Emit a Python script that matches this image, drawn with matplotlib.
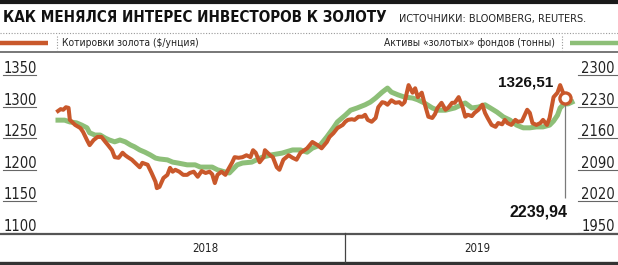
import matplotlib
matplotlib.use("Agg")
import matplotlib.pyplot as plt
import matplotlib.transforms as mtransforms
from matplotlib.lines import Line2D

# --- данные ---
gold_day = [0, 2, 4, 6, 8, 9, 13, 17, 19, 22, 24, 27, 30, 33, 36, 38, 41, 43, 46, 49,
            51, 53, 56, 60, 62, 64, 68, 71, 74, 75, 77, 80, 83, 85, 87, 89, 92, 95, 98, 100,
            103, 106, 109, 112, 115, 117, 119, 121, 124, 127, 129, 132, 134, 137, 140, 143, 146, 148, 150, 153,
            156, 157, 161, 163, 166, 168, 171, 175, 178, 181, 184, 187, 189, 193, 197, 200, 204, 206, 209, 212,
            216, 218, 220, 223, 225, 228, 231, 233, 235, 238, 241, 243, 246, 248, 250, 253, 256, 259, 261, 263,
            266, 269, 271, 273, 276, 278, 281, 284, 286, 288, 291, 294, 296, 299, 301, 304, 307, 309, 311, 314,
            316, 319, 322, 324, 326, 329, 332, 334, 337, 339, 341, 344, 347, 349, 352, 356, 358, 360, 363, 366,
            368, 371, 373, 376, 379, 381, 383, 385]
gold_price = [1293, 1296, 1295, 1299, 1298, 1279, 1271, 1266, 1260, 1247, 1239, 1247, 1252, 1252, 1244, 1239, 1231, 1220, 1219, 1227,
              1223, 1220, 1216, 1208, 1204, 1211, 1208, 1195, 1181, 1171, 1173, 1187, 1192, 1203, 1197, 1200, 1197, 1192, 1192, 1195,
              1197, 1189, 1198, 1195, 1197, 1193, 1179, 1192, 1197, 1192, 1200, 1211, 1220, 1219, 1220, 1223, 1220, 1231, 1227, 1212,
              1220, 1231, 1223, 1220, 1204, 1200, 1216, 1223, 1219, 1216, 1227, 1231, 1234, 1244, 1239, 1234, 1244, 1252, 1258, 1266,
              1271, 1276, 1279, 1280, 1279, 1284, 1284, 1287, 1279, 1276, 1282, 1299, 1307, 1306, 1303, 1310, 1306, 1307, 1303, 1307,
              1334, 1322, 1329, 1315, 1322, 1306, 1284, 1282, 1288, 1298, 1306, 1295, 1298, 1306, 1306, 1315, 1299, 1284, 1287, 1285,
              1290, 1295, 1303, 1290, 1282, 1271, 1268, 1274, 1272, 1279, 1274, 1271, 1279, 1276, 1277, 1295, 1290, 1274, 1271, 1274,
              1279, 1271, 1282, 1315, 1322, 1334, 1323, 1314]

etf_day = [0, 5, 9, 14, 18, 22, 24, 28, 32, 36, 39, 43, 47, 51, 55, 58, 62, 66, 70, 74,
           77, 83, 87, 91, 98, 104, 108, 112, 117, 121, 127, 130, 133, 136, 140, 147, 155, 162, 170, 178,
           184, 189, 193, 199, 204, 209, 212, 218, 222, 227, 233, 237, 241, 246, 250, 253, 258, 263, 269, 273,
           278, 284, 288, 294, 301, 309, 314, 319, 324, 328, 333, 338, 343, 348, 353, 358, 363, 368, 373, 376,
           379, 381, 384, 387, 390]
etf_tonnes = [2200, 2200, 2196, 2194, 2189, 2183, 2172, 2167, 2167, 2160, 2156, 2152, 2156, 2152, 2145, 2141, 2134, 2129, 2123, 2116,
              2114, 2112, 2107, 2105, 2101, 2101, 2096, 2096, 2096, 2090, 2085, 2083, 2092, 2101, 2105, 2107, 2118, 2123, 2127, 2134,
              2134, 2129, 2138, 2145, 2163, 2183, 2196, 2211, 2222, 2227, 2234, 2240, 2249, 2262, 2271, 2262, 2256, 2251, 2249, 2245,
              2238, 2227, 2222, 2222, 2227, 2238, 2227, 2229, 2234, 2227, 2218, 2207, 2200, 2189, 2183, 2183, 2185, 2185, 2189, 2198,
              2211, 2227, 2236, 2236, 2239.94]

gold_ticks = [1100, 1150, 1200, 1250, 1300, 1350]
etf_ticks = [1950, 2020, 2090, 2160, 2230, 2300]
years = ["2018", "2019"]
year_mid = [112, 318]
year_split = 218

title = "КАК МЕНЯЛСЯ ИНТЕРЕС ИНВЕСТОРОВ К ЗОЛОТУ"
source = "ИСТОЧНИКИ: BLOOMBERG, REUTERS."
gold_label = "Котировки золота ($/унция)"
etf_label = "Активы «золотых» фондов (тонны)"

ORANGE = "#c9582b"
GREEN = "#8dbf78"
GRAY = "#7a7a7a"

plt.rcParams["font.family"] = ["DejaVu Sans"]
plt.rcParams["font.stretch"] = "condensed"

W, H = 618, 265
fig = plt.figure(figsize=(W / 100, H / 100), dpi=100)


def fx(x):
    return x / W


def fy(y):
    return 1 - y / H


def hline(y, x0=0, x1=W, **kw):
    fig.add_artist(Line2D([fx(x0), fx(x1)], [fy(y), fy(y)], transform=fig.transFigure, **kw))


def vline(x, y0, y1, **kw):
    fig.add_artist(Line2D([fx(x), fx(x)], [fy(y0), fy(y1)], transform=fig.transFigure, **kw))


# шапка
hline(1.8, color="#1a1a1a", lw=3)
fig.text(fx(3), fy(18), title, fontsize=10.9, fontweight="bold", va="center", color="#111")
fig.text(fx(399), fy(19), source, fontsize=7.8, va="center", color="#222")
hline(33, color="#999", lw=0.8, ls=(0, (1, 1.5)))

# легенда
hline(43, 0, 48, color=ORANGE, lw=3.2, solid_capstyle="butt")
vline(57, 36, 50, color="#999", lw=0.8, ls=(0, (1, 1.5)))
fig.text(fx(62), fy(43), gold_label, fontsize=7.4, va="center", color="#222")
hline(43, 570, W, color=GREEN, lw=3.2, solid_capstyle="butt")
vline(562, 36, 50, color="#999", lw=0.8, ls=(0, (1, 1.5)))
fig.text(fx(555), fy(43), etf_label, fontsize=7.4, va="center", ha="right", color="#222")
hline(51.5, color="#777", lw=1.4)

# график
ax = fig.add_axes([0, (H - 233) / H, 1, 173 / H])
ax2 = ax.twinx()
px = 390 / 514
ax.set_xlim(-58 * px, (W - 58) * px)
ax.set_ylim(1100, 1100 + 173 * 250 / 158)
ax2.set_ylim(1950, 1950 + 173 * 350 / 158)
for a in (ax, ax2):
    a.axis("off")
ax.set_zorder(ax2.get_zorder() + 1)
ax.patch.set_visible(False)

ax2.plot(etf_day, etf_tonnes, color=GREEN, lw=3.6, solid_joinstyle="round")
ax.plot(gold_day, gold_price, color=ORANGE, lw=2.9, solid_joinstyle="round")

lab_l = mtransforms.offset_copy(ax.get_yaxis_transform(), fig=fig, x=0, y=2, units="dots")
lab_r = mtransforms.offset_copy(ax2.get_yaxis_transform(), fig=fig, x=0, y=2, units="dots")
for v in gold_ticks:
    ax.plot([fx(3), fx(36)], [v, v], transform=ax.get_yaxis_transform(), color="#666", lw=0.8,
            clip_on=False)
    ax.text(fx(4), v, str(v), transform=lab_l, fontsize=10.5, va="baseline", ha="left", color="#222")
for v in etf_ticks:
    ax2.plot([fx(578), fx(W)], [v, v], transform=ax2.get_yaxis_transform(), color="#666", lw=0.8,
             clip_on=False)
    ax2.text(fx(615), v, str(v), transform=lab_r, fontsize=10.5, va="baseline", ha="right", color="#222")

# подписи последних значений
ax.vlines(gold_day[-1], 1100 + 35 * 250 / 158, gold_price[-1], color=GRAY, lw=0.9, zorder=1)
ax.plot(gold_day[-1], gold_price[-1], "o", ms=8, mfc="white", mec=ORANGE, mew=2.4, zorder=5)
ax.annotate("1326,51", (gold_day[-1], gold_price[-1]), xytext=(-12, 15), textcoords="offset pixels",
            ha="right", va="center", fontsize=11, fontweight="bold", family="Liberation Sans",
            stretch="normal", color="#111")
ax.annotate("2239,94", (gold_day[-1], 1100 + 21 * 250 / 158), xytext=(2, 0), textcoords="offset pixels",
            ha="right", va="center", fontsize=11.5, fontweight="bold", family="Liberation Sans",
            stretch="normal", color="#111")

# нижняя полоса с годами
hline(233.5, color="#555", lw=1.6)
hline(262.5, color="#333", lw=2.4)
sep_x = 58 + year_split / px
vline(sep_x, 233, 262, color="#444", lw=0.9)
for yr, m in zip(years, year_mid):
    fig.text(fx(58 + m / px), fy(249), yr, fontsize=8.3, ha="center", va="center", color="#222")

fig.savefig("out.png", dpi=100)
